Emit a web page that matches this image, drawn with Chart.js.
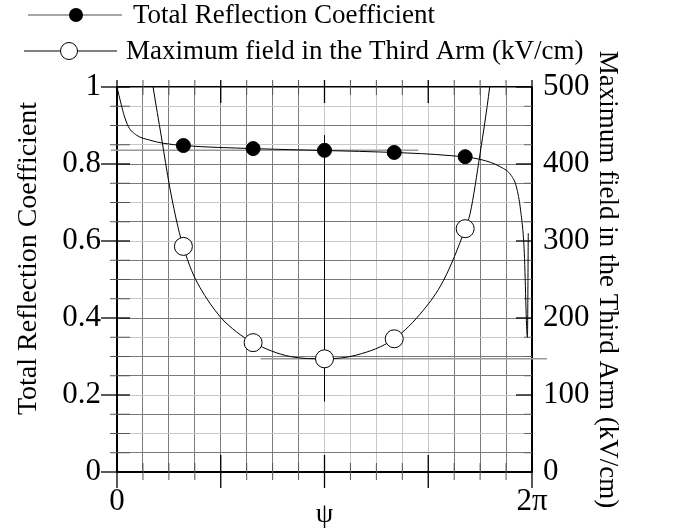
<!DOCTYPE html>
<html>
<head>
<meta charset="utf-8">
<script src="https://cdn.jsdelivr.net/npm/chart.js@4.4.1/dist/chart.umd.min.js"></script>
<style>
  body { margin: 0; background: #fff; }
  canvas { display: block; }
</style>
</head>
<body>
<canvas id="chart" width="673" height="531"></canvas>
<script>
// psi is given in units of pi (0 .. 2)
const psiPoints = [0.32, 0.656, 1.0, 1.336, 1.678];
const reflPoints = [0.848, 0.840, 0.8355, 0.830, 0.819];
const fieldPoints = [293, 168, 147, 173, 316];

const psiReflCurve = [0, 0.02, 0.035, 0.055, 0.094, 0.158, 0.222, 0.32, 0.656, 1.0, 1.336, 1.6, 1.75, 1.85, 1.9, 1.925, 1.945, 1.962, 1.978, 1.982];
const reflCurve = [1.0, 0.955, 0.925, 0.897, 0.875, 0.862, 0.854, 0.848, 0.840, 0.835, 0.830, 0.822, 0.812, 0.792, 0.77, 0.74, 0.68, 0.58, 0.35, 0.62];

const psiFieldCurve = [0.15, 0.174, 0.214, 0.254, 0.294, 0.32, 0.359, 0.399, 0.496, 0.576, 0.656, 0.834, 1.0, 1.156, 1.336, 1.476, 1.574, 1.678, 1.702, 1.75, 1.796, 1.82];
const fieldCurve = [545, 500, 435, 370, 318, 292, 262, 240, 202, 182, 168, 150, 147, 152, 173, 210, 249, 316, 336, 414, 500, 560];

// guide lines drawn on the original figure
const reflGuideX = [-0.03, 1.452];
const reflGuideY = [0.836, 0.836];
const fieldGuideX = [0.692, 2.072];
const fieldGuideY = [147, 147];
const centerGuideX = [1.0, 1.0];
const centerGuideY = [0.183, 0.875];

const xTickLabels = { 0: '0', 2: '2\u03c0' };
const lightX = [8, 9, 10, 11, 12];
const lightY = [2, 4, 7, 9, 12, 14, 17, 19];

const serif = "'Liberation Serif', 'Times New Roman', serif";

function pts(xs, ys) {
    let out = [];
    for (let i = 0; i < xs.length; i++) out.push({ x: xs[i], y: ys[i] });
    return out;
}

const whiteBg = {
    id: 'whiteBg',
    beforeDraw(chart) {
        const ctx = chart.ctx;
        ctx.save();
        ctx.fillStyle = '#fff';
        ctx.fillRect(0, 0, chart.width, chart.height);
        ctx.restore();
    }
};

// tick marks crossing the frame, like the original plot
const frameTicks = {
    id: 'frameTicks',
    beforeDatasetsDraw(chart) {
        const ctx = chart.ctx;
        const a = chart.chartArea;
        const xs = chart.scales.x, yl = chart.scales.y, yr = chart.scales.y2;
        ctx.save();
        for (let i = 0; i <= 16; i++) {
            const px = xs.getPixelForValue(i / 8);
            const major = i % 4 === 0;
            ctx.strokeStyle = major ? '#000' : '#555';
            ctx.lineWidth = major ? 1.3 : 1;
            ctx.beginPath();
            ctx.moveTo(px, a.bottom - (major ? 17 : 9));
            ctx.lineTo(px, a.bottom + (major ? 16 : 8));
            ctx.moveTo(px, a.top - 7);
            ctx.lineTo(px, a.top + (major ? 16 : 8));
            ctx.stroke();
        }
        for (let j = 0; j <= 20; j++) {
            const py = yl.getPixelForValue(j / 20);
            const major = j % 4 === 0;
            ctx.strokeStyle = major ? '#000' : '#555';
            ctx.lineWidth = major ? 1.3 : 1;
            ctx.beginPath();
            ctx.moveTo(a.left - (major ? 16 : 7), py);
            ctx.lineTo(a.left + 13, py);
            ctx.stroke();
        }
        for (let k = 0; k <= 20; k++) {
            const py = yr.getPixelForValue(k * 25);
            const major = k % 4 === 0;
            ctx.strokeStyle = major ? '#000' : '#666';
            ctx.lineWidth = major ? 1.3 : 1;
            ctx.beginPath();
            ctx.moveTo(a.right - (major ? 16 : 8), py);
            ctx.lineTo(a.right, py);
            ctx.stroke();
        }
        ctx.restore();
    }
};

const legendRows = {
    id: 'legendRows',
    afterDraw(chart) {
        const ctx = chart.ctx;
        ctx.save();
        ctx.font = "27px " + serif;
        ctx.textBaseline = 'middle';
        ctx.fillStyle = '#000';

        ctx.strokeStyle = '#888';
        ctx.lineWidth = 1.5;
        ctx.beginPath(); ctx.moveTo(28, 15); ctx.lineTo(122, 15); ctx.stroke();
        ctx.beginPath(); ctx.arc(76, 15, 7, 0, Math.PI * 2); ctx.fill();
        ctx.fillText('Total Reflection Coefficient', 133, 16);

        ctx.strokeStyle = '#000';
        ctx.lineWidth = 1;
        ctx.beginPath(); ctx.moveTo(24, 51); ctx.lineTo(117, 51); ctx.stroke();
        ctx.beginPath(); ctx.arc(69, 51, 8.5, 0, Math.PI * 2);
        ctx.fillStyle = '#fff'; ctx.fill(); ctx.stroke();
        ctx.fillStyle = '#000';
        ctx.fillText('Maximum field in the Third Arm (kV/cm)', 126, 52);
        ctx.restore();
    }
};

const ctx = document.getElementById('chart').getContext('2d');
const chart = new Chart(ctx, {
    type: 'scatter',
    data: {
        datasets: [
            {
                label: 'Total Reflection Coefficient',
                data: pts(psiPoints, reflPoints),
                yAxisID: 'y',
                showLine: false,
                pointRadius: 7,
                pointBackgroundColor: '#000',
                pointBorderColor: '#000',
                order: 0
            },
            {
                label: 'Maximum field in the Third Arm (kV/cm)',
                data: pts(psiPoints, fieldPoints),
                yAxisID: 'y2',
                showLine: false,
                pointRadius: 9,
                pointBackgroundColor: '#fff',
                pointBorderColor: '#000',
                pointBorderWidth: 1,
                order: 0
            },
            {
                label: 'refl curve',
                data: pts(psiReflCurve, reflCurve),
                yAxisID: 'y',
                showLine: true,
                borderColor: '#000',
                borderWidth: 1,
                pointRadius: 0,
                cubicInterpolationMode: 'monotone',
                order: 1
            },
            {
                label: 'field curve',
                data: pts(psiFieldCurve, fieldCurve),
                yAxisID: 'y2',
                showLine: true,
                borderColor: '#000',
                borderWidth: 1,
                pointRadius: 0,
                cubicInterpolationMode: 'monotone',
                order: 1
            },
            {
                label: 'refl guide',
                data: pts(reflGuideX, reflGuideY),
                yAxisID: 'y',
                showLine: true,
                borderColor: '#999',
                borderWidth: 1.5,
                pointRadius: 0,
                clip: false,
                order: 2
            },
            {
                label: 'field guide',
                data: pts(fieldGuideX, fieldGuideY),
                yAxisID: 'y2',
                showLine: true,
                borderColor: '#999',
                borderWidth: 1.5,
                pointRadius: 0,
                clip: false,
                order: 2
            },
            {
                label: 'center guide',
                data: pts(centerGuideX, centerGuideY),
                yAxisID: 'y',
                showLine: true,
                borderColor: '#000',
                borderWidth: 1,
                pointRadius: 0,
                clip: false,
                order: 2
            }
        ]
    },
    options: {
        responsive: false,
        animation: false,
        layout: { padding: { top: 87, left: 0, right: 0, bottom: 0 } },
        plugins: {
            legend: { display: false },
            tooltip: { enabled: false }
        },
        scales: {
            x: {
                type: 'linear',
                min: 0,
                max: 2,
                afterFit: function(scale) { scale.height = 59; },
                border: { color: '#000', width: 1.5 },
                grid: {
                    drawTicks: false,
                    lineWidth: 1,
                    color: function(c) {
                        const i = Math.round(c.tick.value * 8);
                        if (i === 0 || i === 16) return '#000';
                        return lightX.includes(i) ? '#c8c8c8' : '#7a7a7a';
                    }
                },
                ticks: {
                    stepSize: 0.125,
                    autoSkip: false,
                    maxRotation: 0,
                    padding: 11,
                    color: '#000',
                    font: { family: serif, size: 31 },
                    callback: function(v) {
                        return xTickLabels[v] !== undefined ? xTickLabels[v] : '';
                    }
                },
                title: {
                    display: true,
                    text: '\u03c8',
                    color: '#000',
                    padding: 0,
                    font: { family: serif, size: 28 }
                }
            },
            y: {
                type: 'linear',
                position: 'left',
                min: 0,
                max: 1,
                afterFit: function(scale) { scale.width = 117; },
                border: { color: '#000', width: 1.5 },
                grid: {
                    drawTicks: false,
                    lineWidth: function(c) {
                        const j = Math.round(c.tick.value * 20);
                        return j === 20 ? 1.5 : 1;
                    },
                    color: function(c) {
                        const j = Math.round(c.tick.value * 20);
                        if (j === 0 || j === 20) return '#000';
                        return lightY.includes(j) ? '#c8c8c8' : '#7a7a7a';
                    }
                },
                ticks: {
                    stepSize: 0.05,
                    autoSkip: false,
                    padding: 16,
                    color: '#000',
                    font: { family: serif, size: 31 },
                    callback: function(v) {
                        const k = v * 5;
                        if (Math.abs(k - Math.round(k)) > 1e-6) return '';
                        return String(Math.round(k) / 5);
                    }
                },
                title: {
                    display: true,
                    text: '      Total Reflection Coefficient',
                    color: '#000',
                    padding: { top: 12, bottom: 0 },
                    font: { family: serif, size: 28 }
                }
            },
            y2: {
                type: 'linear',
                position: 'right',
                min: 0,
                max: 500,
                afterFit: function(scale) { scale.width = 141; },
                border: { color: '#000', width: 1.5 },
                grid: { display: false, drawTicks: false },
                ticks: {
                    stepSize: 100,
                    padding: 11,
                    color: '#000',
                    font: { family: serif, size: 31 }
                },
                title: {
                    display: true,
                    text: 'Maximum field in the Third Arm (kV/cm)',
                    color: '#000',
                    padding: { top: 50, bottom: 0 },
                    font: { family: serif, size: 27 }
                }
            }
        }
    },
    plugins: [whiteBg, frameTicks, legendRows]
});
</script>
</body>
</html>
